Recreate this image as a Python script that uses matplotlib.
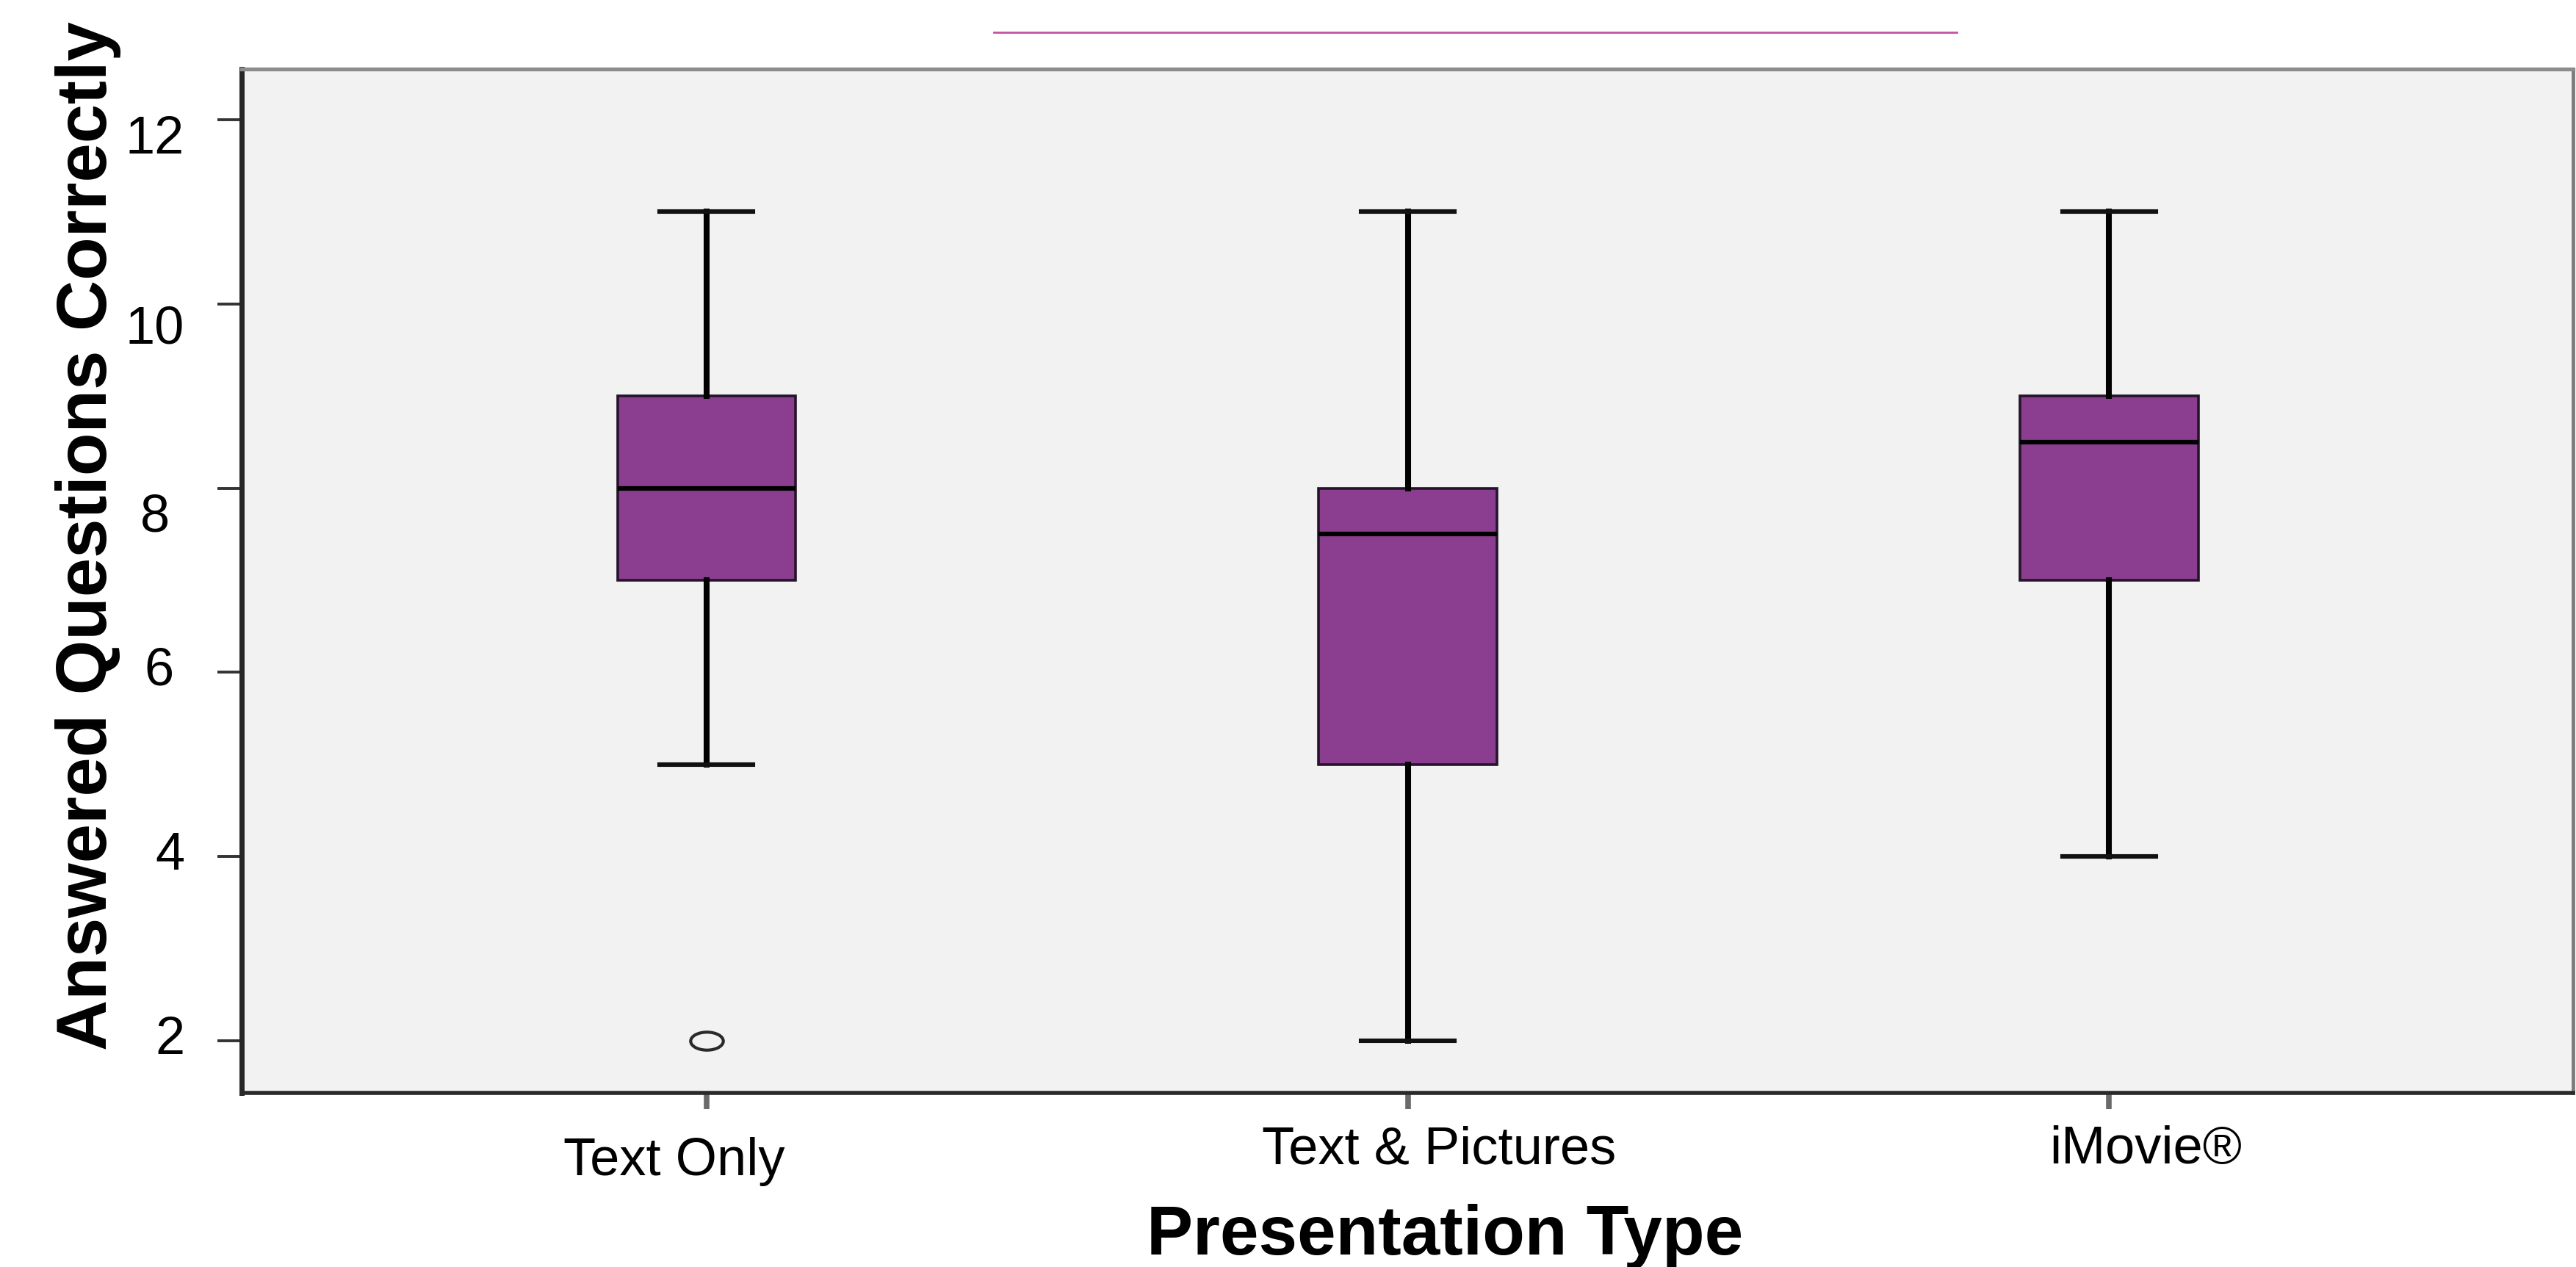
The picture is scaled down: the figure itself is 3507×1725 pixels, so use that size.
import numpy as np
import matplotlib
matplotlib.use("Agg")
import matplotlib.pyplot as plt
from matplotlib.path import Path
from matplotlib.lines import Line2D
from matplotlib.transforms import ScaledTranslation

plt.rcParams['font.family'] = ['Liberation Sans', 'DejaVu Sans']

# box plot summary
groups = ['Text Only', 'Text & Pictures', 'iMovie®']
whisker_low = [5, 2, 4]
q1 = [7, 5, 7]
medians = [8, 7.5, 8.5]
q3 = [9, 8, 9]
whisker_high = [11, 11, 11]
outliers = [[2], [], []]
yticks = [2, 4, 6, 8, 10, 12]

DPI = 100
fig = plt.figure(figsize=(35.07, 17.25), dpi=DPI)
ax = fig.add_axes([0.0938, 0.1374, 0.9052, 0.8081])
ax.set_facecolor('#f2f2f2')

stats = []
for name, lo, a, m, b, hi, fl in zip(groups, whisker_low, q1, medians, q3, whisker_high, outliers):
    stats.append(dict(label=name, whislo=lo, q1=a, med=m, q3=b, whishi=hi,
                      fliers=np.array(fl, dtype=float)))

# the outlier is drawn as a flat open ellipse
circ = Path.unit_circle()
ellipse = Path(circ.vertices * [1.0, 0.55], circ.codes)

ax.bxp(stats, positions=[0, 1, 2], widths=0.254, capwidths=0.133, patch_artist=True,
       boxprops=dict(facecolor='#8b3e8f', edgecolor='#26142a', linewidth=2.6),
       medianprops=dict(color='black', linewidth=4.5),
       whiskerprops=dict(color='black', linewidth=5.8),
       capprops=dict(color='#111111', linewidth=4.4),
       flierprops=dict(marker=ellipse, markersize=32, markerfacecolor='none',
                       markeredgecolor='#2a2a2a', markeredgewidth=3))

ax.set_xlim(-0.663, 2.662)
ax.set_ylim(1.434, 12.55)
ax.set_yticks(yticks)

ax.tick_params(axis='y', direction='out', length=24, width=2.8, color='#333333', pad=32, labelsize=52)
ax.tick_params(axis='x', direction='out', length=16, width=5.5, color='#6a6a6a', pad=16, labelsize=52)

# the labels in the source are nudged about a bit (pixels)
xlab_shift = [(-44, -16), (42, 0), (50, 0)]
for lab, (dx, dy) in zip(ax.get_xticklabels(), xlab_shift):
    lab.set_transform(lab.get_transform() + ScaledTranslation(dx / DPI, dy / DPI, fig.dpi_scale_trans))
ylab_shift = [(0, 8), (0, 8), (-15, 9), (-20, -33), (0, -28), (0, -20)]
for lab, (dx, dy) in zip(ax.get_yticklabels(), ylab_shift):
    lab.set_transform(lab.get_transform() + ScaledTranslation(dx / DPI, dy / DPI, fig.dpi_scale_trans))

ax.spines['left'].set(color='#262626', linewidth=5)
ax.spines['bottom'].set(color='#2a2a2a', linewidth=4)
ax.spines['top'].set(color='#8c8c8c', linewidth=3.8)
ax.spines['right'].set(color='#7c7c7c', linewidth=3.5)

ax.set_xlabel('Presentation Type', fontsize=68, fontweight='bold')
ax.xaxis.set_label_coords(0.516, -0.108)
ax.set_ylabel('Answered Questions Correctly', fontsize=69, fontweight='bold')
ax.yaxis.set_label_coords(-0.0517, 0.544)

# thin pink rule above the plot
fig.add_artist(Line2D([0.3858, 0.7596], [0.9745, 0.9745], transform=fig.transFigure,
                      color='#c552a5', linewidth=2))

fig.savefig('out.png', dpi=DPI)
